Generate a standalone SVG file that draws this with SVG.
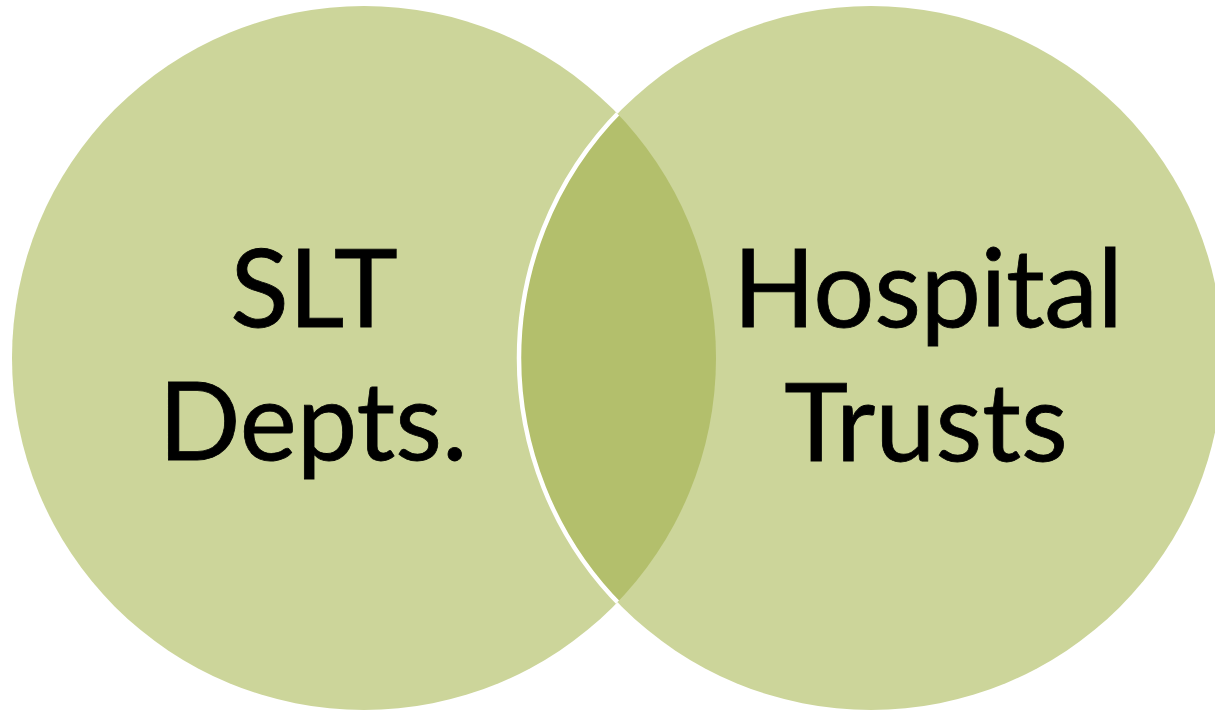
<svg xmlns="http://www.w3.org/2000/svg" width="1215" height="711" viewBox="0 0 1215 711">
<style>
.c{fill:#CCD59A}
.lbl{font-family:Lato,"Open Sans","Liberation Sans",sans-serif;font-size:108px;fill:#000;text-anchor:middle;stroke:#000;stroke-width:0.8px}
</style>
<defs>
<clipPath id="clipL"><circle cx="364" cy="358" r="352"/></clipPath>
</defs>
<rect width="1215" height="711" fill="#fff"/>
<g id="node-slt">
<circle class="c" cx="364" cy="358" r="352"/>
</g>
<g id="node-hospital">
<circle class="c" cx="871" cy="358" r="352"/>
</g>
<g id="overlap">
<circle cx="871" cy="358" r="352" fill="#B3BF6C" clip-path="url(#clipL)"/>
<circle cx="871" cy="358" r="352" fill="none" stroke="#fff" stroke-width="4.5" clip-path="url(#clipL)"/>
</g>
<g id="labels">
<text class="lbl" x="314" y="327">SLT</text>
<text class="lbl" x="313" y="460">Depts.</text>
<text class="lbl" x="928" y="327" textLength="390">Hospital</text>
<text class="lbl" x="926" y="461">Trusts</text>
</g>
</svg>
